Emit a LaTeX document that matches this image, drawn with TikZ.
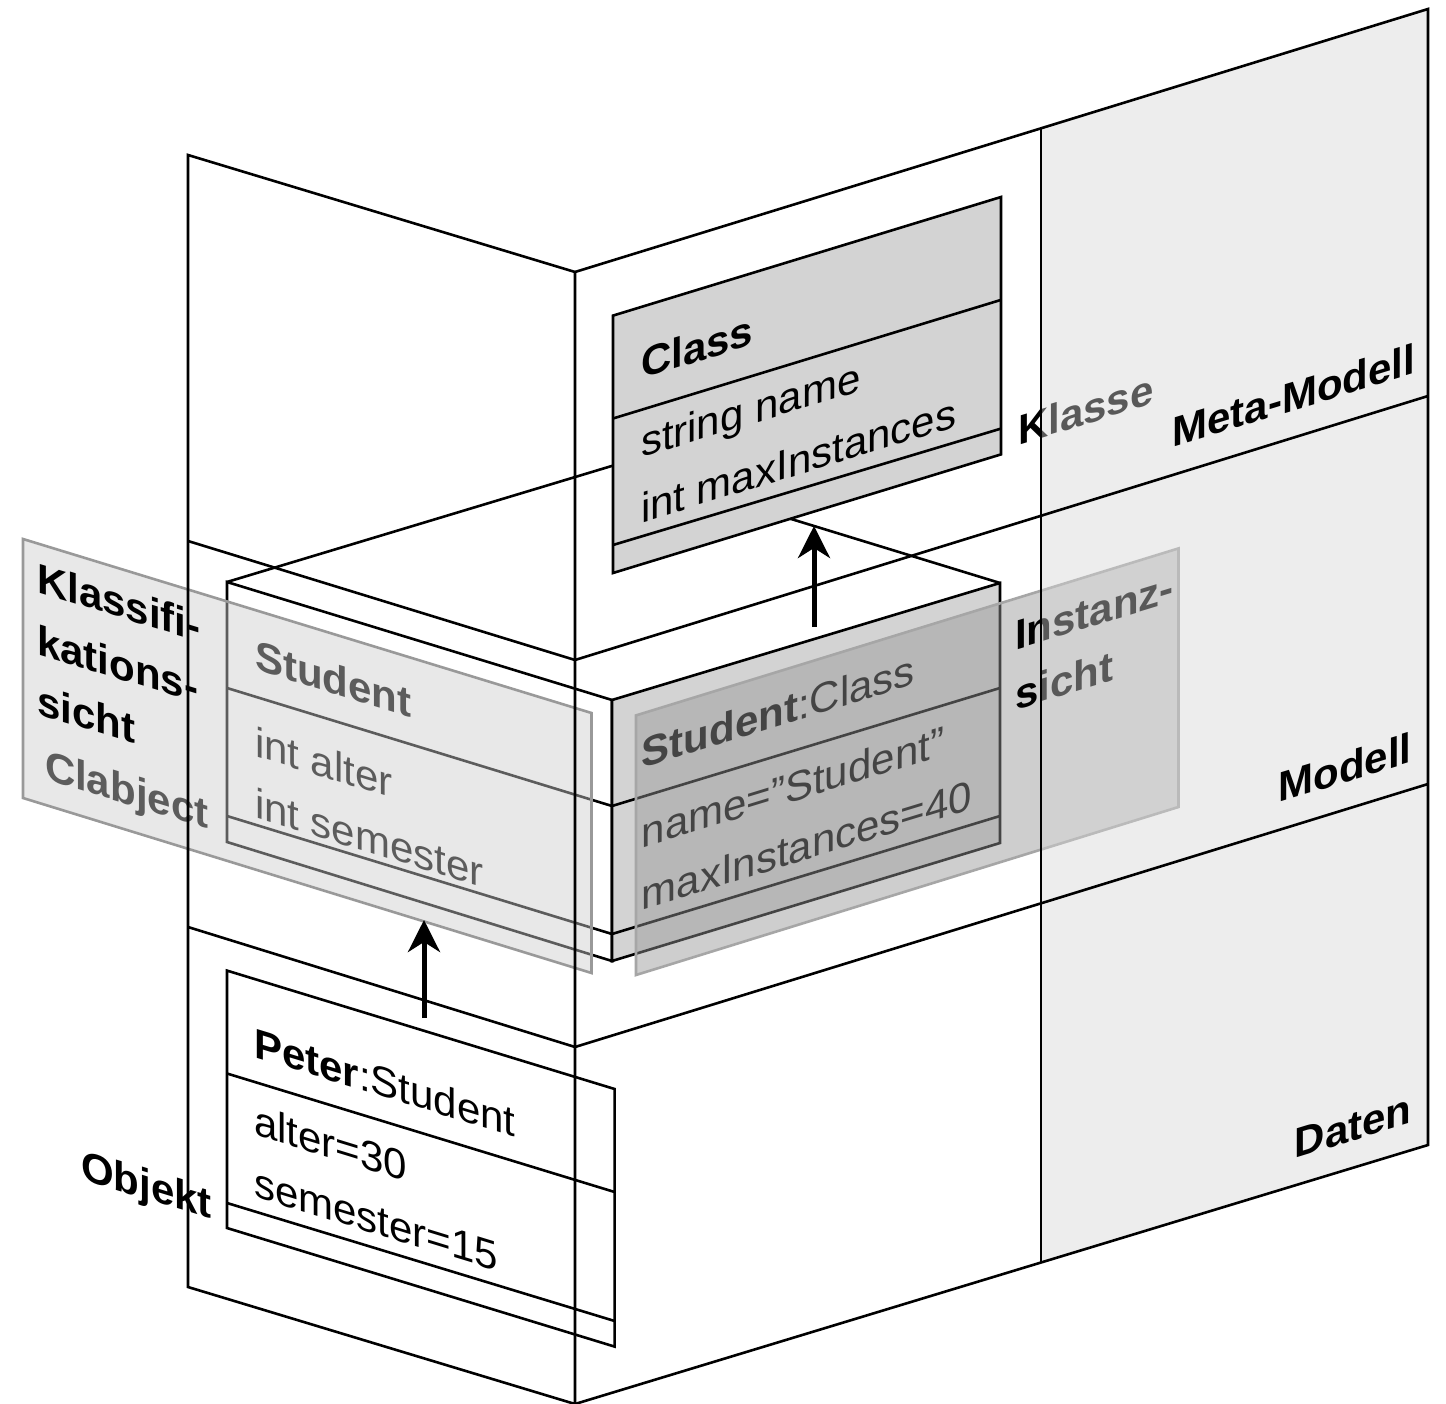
\documentclass[tikz,border=0pt]{standalone}
\usepackage{fontspec}
\setmainfont{Liberation Sans}
\usetikzlibrary{arrows.meta}
\definecolor{boxgray}{HTML}{D3D3D3}
\definecolor{ovlA}{HTML}{CCCCCC}
\definecolor{ovlAline}{HTML}{999999}
\definecolor{ovlB}{HTML}{969696}
\definecolor{ovlBline}{HTML}{A6A6A6}
\definecolor{planegray}{HTML}{D6D6D6}
\newcommand{\dfont}{\fontsize{42}{50}\selectfont}
\begin{document}
\begin{tikzpicture}[x=1pt,y=-1pt,
  ln/.style={line width=2.6pt, line join=miter},
  rtext/.style={anchor=base west, inner sep=0pt, outer sep=0pt, yslant=0.3057, font=\dfont},
  ltext/.style={anchor=base west, inner sep=0pt, outer sep=0pt, yslant=-0.306, font=\dfont},
  rlabel/.style={rtext, font=\dfont\bfseries},
  llabel/.style={ltext, font=\dfont\bfseries},
  uarrow/.style={line width=5pt, -{Stealth[length=32pt,width=32pt,inset=10pt]}}
]
\useasboundingbox (0,0) rectangle (1446,1404);
\fill[white] (0,0) rectangle (1446,1404);

% clabject 3D box corners
\coordinate (fTL) at (227,582);
\coordinate (fTR) at (612,700);
\coordinate (fBR) at (612,961);
\coordinate (fBL) at (227,842);
\coordinate (sTR) at (1000,583);
\coordinate (sBR) at (1000,843);
\coordinate (tBack) at (615,465);

% top face (partly hidden by Class box)
\draw[ln] (fTL) -- (tBack) -- (sTR);

% Class box
\filldraw[ln, fill=boxgray] (613,315.6) -- (1001,197) -- (1001,454.4) -- (613,573) -- cycle;
\draw[ln] (613,418.5) -- (1001,299.9);
\draw[ln] (613,545) -- (1001,428.6);
\node[rtext, font=\dfont\bfseries] (clsT) at (641,379) {Class};
\node[rtext] (clsA1) at (641,458) {string name};
\node[rtext] (clsA2) at (641,523) {int maxInstances};

% front face (Student)
\draw[ln] (fTL) -- (fTR) -- (fBR) -- (fBL) -- cycle;
\draw[ln] (227,688) -- (612,806);
\draw[ln] (227,816) -- (612,934);
\node[ltext, font=\dfont\bfseries] (stuT) at (255,669.6) {Student};
\node[ltext] (stuA1) at (255,756) {int alter};
\node[ltext] (stuA2) at (255,817.5) {int semester};

% side face (Student:Class)
\filldraw[ln, fill=boxgray] (fTR) -- (sTR) -- (sBR) -- (fBR) -- cycle;
\draw[ln] (612,806) -- (1000,688);
\draw[ln] (612,934) -- (1000,816);
\node[rtext] (scT) at (641.7,768) {\textbf{Student}:Class};
\node[rtext] (scA1) at (641.7,848) {name=”Student”};
\node[rtext] (scA2) at (641.7,910) {maxInstances=40};

\node[llabel] (clab) at (45,779) {Clabject};

% view overlays
\filldraw[draw=ovlAline, line width=2.6pt, fill=ovlA, fill opacity=0.45]
  (23,539) -- (591.5,713) -- (591.5,973) -- (23,798) -- cycle;
\filldraw[draw=ovlBline, line width=2.6pt, fill=ovlB, fill opacity=0.46]
  (636,715.4) -- (1178.5,548.4) -- (1178.5,807) -- (636,975) -- cycle;

% labels under the gray region
\node[llabel] (kl1) at (37,592) {Klassifi-};
\node[llabel] (kl2) at (37,654) {kations-};
\node[llabel] (kl3) at (37,714) {sicht};
\node[llabel] (obj) at (81,1179) {Objekt};
\node[rlabel] (kla) at (1018,445) {Klasse};
\node[rlabel] (in1) at (1015,650) {Instanz-};
\node[rlabel] (in2) at (1015,710) {sicht};

% gray region of right plane
\fill[planegray, fill opacity=0.42] (1041,128.3) -- (1428,9) -- (1428,1145) -- (1041,1262.5) -- cycle;

% planes
\draw[ln] (188,155) -- (575,272) -- (575,1404) -- (188,1287) -- cycle;
\draw[ln] (188,541) -- (575,660);
\draw[ln] (188,927) -- (575,1047);
\draw[ln] (575,272) -- (1428,9) -- (1428,1145) -- (575,1404);
\draw[ln] (575,660) -- (1428,396);
\draw[ln] (575,1047) -- (1428,784);
\draw[ln] (1041,128.3) -- (1041,1262.5);

\node[rlabel] (mm) at (1172.5,447.6) {Meta-Modell};
\node[rlabel] (mo) at (1278.5,802.7) {Modell};
\node[rlabel] (da) at (1294.7,1158.6) {Daten};

% object box
\draw[ln] (227,970.6) -- (614.6,1089) -- (614.6,1346.6) -- (227,1228) -- cycle;
\draw[ln] (227,1073.5) -- (614.6,1192);
\draw[ln] (227,1203) -- (614.6,1321);
\node[ltext] (pT) at (254,1057) {\textbf{Peter}:Student};
\node[ltext] (pA1) at (254,1134.5) {alter=30};
\node[ltext] (pA2) at (254,1196.6) {semester=15};

% instance-of arrows
\coordinate (a1s) at (424,1018);
\coordinate (a1e) at (424,920);
\coordinate (a2s) at (814,627);
\coordinate (a2e) at (814,526);
\draw[uarrow] (a1s) -- (a1e);
\draw[uarrow] (a2s) -- (a2e);
\end{tikzpicture}
\end{document}
